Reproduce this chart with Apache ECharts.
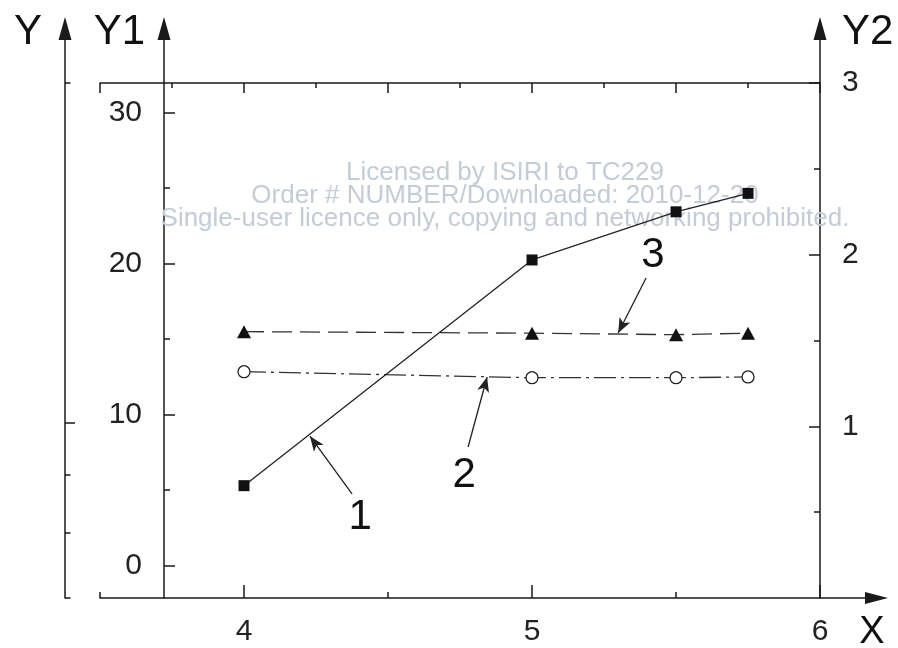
<!DOCTYPE html>
<html>
<head>
<meta charset="utf-8">
<script src="https://cdn.jsdelivr.net/npm/echarts@6/dist/echarts.min.js"></script>
<style>
html,body{margin:0;padding:0;background:#fff;}
#chart{width:898px;height:648px;}
</style>
</head>
<body>
<div id="chart"></div>
<script>
// ---------- data ----------
const xValues = [4, 5, 5.5, 5.75];
const series1 = [5.3, 20.25, 23.44, 24.66];   // squares, solid
const series2 = [12.85, 12.45, 12.45, 12.5];  // circles, dash-dot
const series3 = [15.5, 15.4, 15.3, 15.4];     // triangles, dashed

const xMajorTicks = [4, 5, 6];
const xMinorTicks = [3.5, 4.5, 5.5];
const y1MajorTicks = [0, 10, 20, 30];
const y1MinorTicks = [5, 15, 25];
const y2MajorTicks = [1, 2, 3];
const y2MinorTicks = [0.5, 1.5, 2.5];
const yLeftMajorTicks = [1.02];
const yLeftMinorTicks = [0, 0.38, 0.72, 3.0];

// annotation callouts (data coords on X / Y1)
const annotations = [
  { text: '1', labelAt: [4.403, 3.22], from: [4.375, 4.75], to: [4.229, 8.58] },
  { text: '2', labelAt: [4.764, 6.0], from: [4.778, 7.86], to: [4.844, 12.5] },
  { text: '3', labelAt: [5.420, 20.58], from: [5.396, 19.05], to: [5.299, 15.41] }
];

const watermark = [
  'Licensed by ISIRI to TC229',
  'Order # NUMBER/Downloaded: 2010-12-20',
  'Single-user licence only, copying and networking prohibited.'
];

// ---------- styling ----------
const FONT = "'Liberation Sans', Arial, sans-serif";
const INK = '#1a1a1a';
const X_MIN = 3.5, X_MAX = 6.196;
const Y1_MIN = -2.14, Y1_MAX = 35.58;
const Y2_MIN = 0, Y2_MAX = 3.317;

function zip(xs, ys) { return xs.map((x, i) => [x, ys[i]]); }

const lineAxis = { show: true, onZero: false, lineStyle: { color: INK, width: 1.5 } };
const noLine = { show: false, onZero: false };
const labelStyle = { color: '#222', fontSize: 30, fontFamily: FONT };

function yAxisDef(opts) {
  return Object.assign({
    type: 'value', gridIndex: 0, splitLine: { show: false },
    axisLabel: { show: false }
  }, opts);
}

const chart = echarts.init(document.getElementById('chart'), null, { renderer: 'canvas' });

const option = {
  animation: false,
  backgroundColor: '#fff',
  grid: [
    { left: 100, right: 21.5, top: 28.5, bottom: 50, containLabel: false, outerBoundsMode: 'none' },
    { left: 100, right: 78, top: 83, bottom: 50, containLabel: false, outerBoundsMode: 'none' }
  ],
  xAxis: [
    { // bottom X, major ticks + labels
      type: 'value', gridIndex: 0, position: 'bottom', min: X_MIN, max: X_MAX,
      axisLine: Object.assign({}, lineAxis, { symbol: ['none', 'triangle'], symbolSize: [12, 23] }),
      axisTick: { show: true, inside: true, length: 13, customValues: xMajorTicks, lineStyle: { color: INK, width: 1.5 } },
      axisLabel: Object.assign({ show: true, margin: 19, customValues: xMajorTicks, formatter: v => String(v) }, labelStyle),
      splitLine: { show: false },
      name: 'X', nameLocation: 'end', nameGap: -4.5,
      nameTextStyle: { fontSize: 38, fontFamily: FONT, color: '#111', align: 'center', verticalAlign: 'top', padding: [16, 0, 0, 0] }
    },
    { // bottom X minor ticks
      type: 'value', gridIndex: 0, position: 'bottom', min: X_MIN, max: X_MAX,
      axisLine: noLine,
      axisTick: { show: true, inside: true, length: 6, customValues: xMinorTicks, lineStyle: { color: INK, width: 1.5 } },
      axisLabel: { show: false }, splitLine: { show: false }
    },
    { // top frame line
      type: 'value', gridIndex: 1, position: 'top', min: 3.5, max: 6, interval: 0.5,
      axisLine: lineAxis,
      axisTick: { show: true, inside: true, length: 10, lineStyle: { color: INK, width: 1.5 } },
      minorTick: { show: true, splitNumber: 2, length: 5, lineStyle: { color: INK, width: 1.5 } },
      axisLabel: { show: false }, splitLine: { show: false }
    }
  ],
  yAxis: [
    yAxisDef({ // 0: left Y
      position: 'left', offset: 35, min: Y2_MIN, max: Y2_MAX,
      axisLine: Object.assign({}, lineAxis, { symbol: ['none', 'triangle'], symbolSize: [13, 23] }),
      axisTick: { show: true, inside: true, length: 10, customValues: yLeftMajorTicks, lineStyle: { color: INK, width: 1.5 } },
      name: 'Y', nameLocation: 'end', nameGap: -3.5,
      nameTextStyle: { fontSize: 42, fontFamily: FONT, color: '#111', align: 'right', verticalAlign: 'middle', padding: [0, 23, 0, 0] }
    }),
    yAxisDef({ // 1: left Y minor
      position: 'left', offset: 35, min: Y2_MIN, max: Y2_MAX, axisLine: noLine,
      axisTick: { show: true, inside: true, length: 5.5, customValues: yLeftMinorTicks, lineStyle: { color: INK, width: 1.5 } }
    }),
    yAxisDef({ // 2: Y1 major + labels
      position: 'left', offset: -64, min: Y1_MIN, max: Y1_MAX,
      axisLine: Object.assign({}, lineAxis, { symbol: ['none', 'triangle'], symbolSize: [13, 23] }),
      axisTick: { show: true, inside: true, length: 11, customValues: y1MajorTicks, lineStyle: { color: INK, width: 1.5 } },
      axisLabel: Object.assign({ show: true, margin: 22, customValues: y1MajorTicks, formatter: v => String(v) }, labelStyle),
      name: 'Y1', nameLocation: 'end', nameGap: -3.5,
      nameTextStyle: { fontSize: 42, fontFamily: FONT, color: '#111', align: 'right', verticalAlign: 'middle', padding: [0, 19, 0, 0] }
    }),
    yAxisDef({ // 3: Y1 minor
      position: 'left', offset: -64, min: Y1_MIN, max: Y1_MAX, axisLine: noLine,
      axisTick: { show: true, inside: true, length: 6, customValues: y1MinorTicks, lineStyle: { color: INK, width: 1.5 } }
    }),
    yAxisDef({ // 4: Y2 major + labels
      position: 'right', offset: -56.5, min: Y2_MIN, max: Y2_MAX,
      axisLine: Object.assign({}, lineAxis, { symbol: ['none', 'triangle'], symbolSize: [13, 23] }),
      axisTick: { show: true, inside: true, length: 11, customValues: y2MajorTicks, lineStyle: { color: INK, width: 1.5 } },
      axisLabel: Object.assign({ show: true, margin: 22, customValues: y2MajorTicks, formatter: v => String(v) }, labelStyle),
      name: 'Y2', nameLocation: 'end', nameGap: -3.5,
      nameTextStyle: { fontSize: 42, fontFamily: FONT, color: '#111', align: 'left', verticalAlign: 'middle', padding: [0, 0, 0, 22] }
    }),
    yAxisDef({ // 5: Y2 minor
      position: 'right', offset: -56.5, min: Y2_MIN, max: Y2_MAX, axisLine: noLine,
      axisTick: { show: true, inside: true, length: 6, customValues: y2MinorTicks, lineStyle: { color: INK, width: 1.5 } }
    }),
    yAxisDef({ // 6: hidden for grid 1
      gridIndex: 1, show: false, min: 0, max: 1
    })
  ],
  graphic: [{
    type: 'text', x: 505, y: 161, z: 1,
    style: {
      text: watermark.join('\n'), fill: '#c3ccd7', font: '26px ' + FONT,
      align: 'center', verticalAlign: 'top', lineHeight: 23
    }
  }],
  series: [
    {
      name: '1', type: 'line', xAxisIndex: 0, yAxisIndex: 2, z: 4,
      data: zip(xValues, series1),
      symbol: 'rect', symbolSize: 11, showSymbol: true,
      itemStyle: { color: '#111' },
      lineStyle: { color: '#222', width: 1.3, type: 'solid' },
      markLine: {
        silent: true, symbol: ['none', 'arrow'], symbolSize: [9, 15], z: 5,
        label: { show: false },
        lineStyle: { color: '#222', width: 1.3, type: 'solid' },
        data: annotations.map(a => [{ coord: a.from }, { coord: a.to }])
      },
      markPoint: {
        silent: true, symbol: 'circle', symbolSize: 1,
        itemStyle: { color: 'rgba(0,0,0,0)' },
        label: { show: true, position: 'inside', fontSize: 42, fontFamily: FONT, color: '#111' },
        data: annotations.map(a => ({ coord: a.labelAt, value: a.text, label: { formatter: a.text } }))
      }
    },
    {
      name: '2', type: 'line', xAxisIndex: 0, yAxisIndex: 2, z: 3,
      data: zip(xValues, series2),
      symbol: 'circle', symbolSize: 12, showSymbol: true,
      itemStyle: { color: '#fff', borderColor: '#222', borderWidth: 1.3 },
      lineStyle: { color: '#333', width: 1.3, type: [22, 5, 3, 5] }
    },
    {
      name: '3', type: 'line', xAxisIndex: 0, yAxisIndex: 2, z: 3,
      data: zip(xValues, series3),
      symbol: 'triangle', symbolSize: [14, 13], showSymbol: true,
      itemStyle: { color: '#111' },
      lineStyle: { color: '#333', width: 1.3, type: [20, 8] }
    }
  ]
};

chart.setOption(option);
</script>
</body>
</html>
